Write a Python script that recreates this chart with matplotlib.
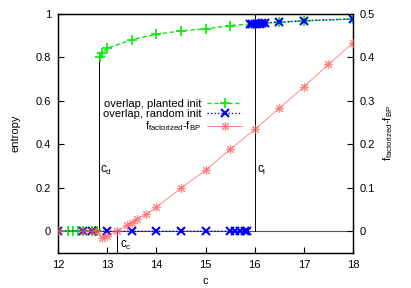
import numpy as np
import matplotlib
matplotlib.use("Agg")
import matplotlib.pyplot as plt

plt.rcParams['font.family'] = ['Liberation Sans', 'DejaVu Sans']
plt.rcParams['font.size'] = 8
plt.rcParams['mathtext.default'] = 'regular'

# overlap, planted init (nan = break between branches)
planted_c = [12.0, 12.2, 12.3, 12.4, 12.5, 12.7, 12.75, 12.8, np.nan,
             12.85, 12.9, 13.0, 13.5, 14.0, 14.5, 15.0, 15.5, 16.0, 16.5, 17.0, 18.0]
planted_q = [0, 0, 0, 0, 0, 0, 0, 0, np.nan,
             0.80, 0.82, 0.84, 0.88, 0.905, 0.92, 0.93, 0.945, 0.953, 0.96, 0.967, 0.975]

# overlap, random init
random_c = [12.0, 12.5, 12.7, 13.0, 13.5, 14.0, 14.5, 15.0, 15.5, 15.6, 15.7, 15.8, 15.85, np.nan,
            15.9, 15.95, 16.0, 16.05, 16.1, 16.15, 16.2, 16.5, 17.0, 18.0]
random_q = [0, 0, 0, 0, 0, 0, 0, 0, 0, 0, 0, 0, 0, np.nan,
            0.95, 0.951, 0.952, 0.953, 0.954, 0.955, 0.956, 0.96, 0.967, 0.975]

# f_factorized - f_BP
df_c = [12.0, 12.5, 12.7, 12.8, 12.9, 13.0, 13.2, 13.4, 13.5, 13.6, 13.8, 14.0,
        14.5, 15.0, 15.5, 16.0, 16.5, 17.0, 17.5, 18.0]
df_v = [0, 0, 0, 0, -0.016, -0.011, 0.0, 0.014, 0.02, 0.028, 0.039, 0.055,
        0.099, 0.14, 0.188, 0.234, 0.282, 0.332, 0.383, 0.433]

c_d = 12.83
c_c = 13.21
c_l = 16.0

fig = plt.figure(figsize=(4.11, 2.88), dpi=100)
ax = fig.add_axes([0.141, 0.1215, 0.718, 0.8315])
ax2 = ax.twinx()

ax.axhline(0, color='#555555', lw=0.8, zorder=1)
ax.plot([c_d, c_d], [0, 0.8], color='black', lw=0.7, zorder=1)
ax.plot([c_c, c_c], [-0.1, 0], color='black', lw=0.7, zorder=1)
ax.plot([c_l, c_l], [0, 1.0], color='black', lw=0.7, zorder=1)

l1, = ax.plot(planted_c, planted_q, color='#00ee00', ls=(0, (3, 2)), lw=1,
              marker='+', ms=7, mew=1.2, label='overlap, planted init', zorder=3)
l2, = ax.plot(random_c, random_q, color='#0000ff', ls=(0, (1, 1.5)), lw=1,
              marker='x', ms=6, mew=1.5, label='overlap, random init', zorder=4)
l3, = ax2.plot(df_c, df_v, color='#ff5050', lw=0.7, alpha=0.65,
               marker=(8, 2, 0), ms=6.5, mew=0.8, label='f$_{factorized}$-f$_{BP}$', zorder=5)

ax.text(c_d + 0.03, 0.28, 'c$_d$', ha='left', va='center', fontsize=8.5)
ax.text(c_c + 0.05, -0.065, 'c$_c$', ha='left', va='center', fontsize=8.5)
ax.text(c_l + 0.05, 0.28, 'c$_l$', ha='left', va='center', fontsize=8.5)

ax.set_xlim(12, 18)
ax.set_ylim(-0.1, 1.0)
ax2.set_ylim(-0.05, 0.5)
ax.set_xticks([12, 13, 14, 15, 16, 17, 18])
ax.set_yticks([0, 0.2, 0.4, 0.6, 0.8, 1])
ax.set_yticklabels(['0', '0.2', '0.4', '0.6', '0.8', '1'])
ax2.set_yticks([0, 0.1, 0.2, 0.3, 0.4, 0.5])
ax2.set_yticklabels(['0', '0.1', '0.2', '0.3', '0.4', '0.5'])
ax.tick_params(direction='in', length=4, width=0.8, pad=5)
ax2.tick_params(direction='in', length=4, width=0.8, pad=5)
for a in (ax, ax2):
    for s in a.spines.values():
        s.set_linewidth(0.9)

ax.set_xlabel('c', labelpad=4)
ax.set_ylabel('entropy', labelpad=11)
ax2.set_ylabel('f$_{factorized}$-f$_{BP}$', labelpad=4)

ax2.legend(handles=[l1, l2, l3], markerfirst=False, frameon=False,
           loc='upper right', bbox_to_anchor=(0.625, 0.645), borderaxespad=0,
           borderpad=0, handlelength=3.2, handletextpad=0.5, labelspacing=0.05)

fig.savefig('out.png', dpi=100)
